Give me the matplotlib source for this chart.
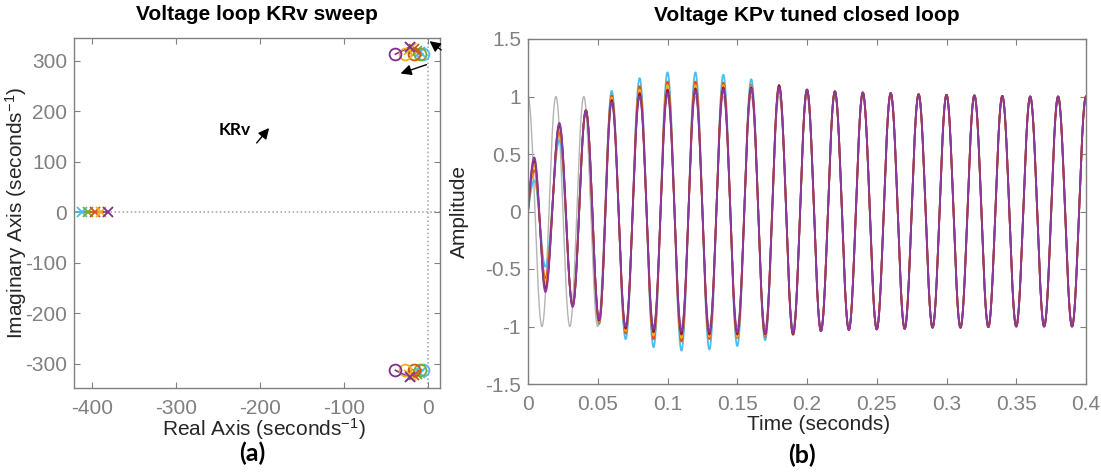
"""
Root locus of the KRv sweep and closed loop response with tuned KPv
"""

import numpy as np
import matplotlib
matplotlib.use("Agg")
from matplotlib import pyplot as plt

plt.rcParams["font.family"] = ["Liberation Sans", "DejaVu Sans"]
plt.rcParams["axes.unicode_minus"] = False
plt.rcParams["mathtext.default"] = "regular"

# (a) root locus: poles (x) and zeros (o) for each KRv value
krv_colors = ["#4DBEEE", "#77AC30", "#D95319", "#EDB120", "#7E2F8E"]
real_pole = [-412, -404, -396, -389, -381]
cplx_pole_re = [-10, -13, -17, -20, -22]
cplx_pole_im = [318, 320, 323, 325, 327]
zero_re = [-6, -10, -17, -28, -39]
zero_im = [313, 313, 313, 313, 313]

# (b) closed loop response: value at each peak / trough
ext_t = [0, 0.0045, 0.0125, 0.0225, 0.032, 0.0415, 0.051,
         0.06, 0.07, 0.08, 0.09, 0.10, 0.11, 0.12, 0.13, 0.14, 0.15,
         0.16, 0.17, 0.18, 0.19, 0.20, 0.21, 0.22, 0.23, 0.24, 0.25,
         0.26, 0.27, 0.28, 0.29, 0.30, 0.31, 0.32, 0.33, 0.34, 0.35,
         0.36, 0.37, 0.38, 0.39, 0.40]
kpv_colors = ["#4DBEEE", "#D95319", "#EDB120", "#A2142F", "#8A3A9C"]
resp_cyan = [0, 0.27, -0.48, 0.62, -0.80, 0.87, -0.98, 1.05, -1.11, 1.16, -1.18,
             1.21, -1.21, 1.21, -1.20, 1.19, -1.17, 1.15, -1.12, 1.09, -1.07]
resp_orange = [0, 0.36, -0.58, 0.69, -0.81, 0.88, -0.97, 1.01, -1.06, 1.09, -1.11,
               1.13, -1.13, 1.13, -1.11, 1.12, -1.10, 1.10, -1.09, 1.09, -1.07]
resp_yellow = [0, 0.40, -0.63, 0.72, -0.82, 0.88, -0.96, 0.99, -1.04, 1.06, -1.08,
               1.10, -1.10, 1.10, -1.09, 1.10, -1.09, 1.09, -1.08, 1.09, -1.07]
resp_red = [0, 0.44, -0.67, 0.75, -0.82, 0.88, -0.95, 0.97, -1.02, 1.03, -1.05,
            1.06, -1.07, 1.07, -1.07, 1.08, -1.07, 1.08, -1.07, 1.10, -1.07]
resp_purple = [0, 0.47, -0.70, 0.77, -0.83, 0.88, -0.94, 0.95, -1.00, 1.00, -1.02,
               1.03, -1.04, 1.05, -1.05, 1.06, -1.05, 1.07, -1.06, 1.08, -1.06]
# from 0.20 s on all responses overlap
resp_tail = [1.06, -1.04, 1.045, -1.03, 1.035, -1.025, 1.03, -1.02, 1.02, -1.01,
             1.015, -1.01, 1.01, -1.005, 1.005, -1.0, 1.0, -1.0, 1.0, -1.0, 1.0]
ref_t = [0, 0.01, 0.02, 0.03, 0.04, 0.05, 0.06, 0.07, 0.08, 0.09, 0.10,
         0.11, 0.12, 0.13, 0.14, 0.15, 0.16, 0.17, 0.18, 0.19, 0.20,
         0.21, 0.22, 0.23, 0.24, 0.25, 0.26, 0.27, 0.28, 0.29, 0.30,
         0.31, 0.32, 0.33, 0.34, 0.35, 0.36, 0.37, 0.38, 0.39, 0.40]
ref_v = [1, -1, 1, -1, 1, -1, 1, -1, 1, -1, 1, -1, 1, -1, 1, -1, 1, -1, 1, -1, 1,
         -1, 1, -1, 1, -1, 1, -1, 1, -1, 1, -1, 1, -1, 1, -1, 1, -1, 1, -1, 1]

GRAY = "#808080"
TXT = "#262626"


def through_extrema(t_ext, v_ext, n=40):
    # smooth (cosine shaped) segments between consecutive peaks/troughs
    ts, vs = [], []
    for i in range(len(t_ext) - 1):
        s = np.linspace(0, 1, n, endpoint=False)
        if i == 0 and v_ext[0] == 0:
            w = np.sin(np.pi / 2 * s)
        else:
            w = (1 - np.cos(np.pi * s)) / 2
        ts.append(t_ext[i] + (t_ext[i + 1] - t_ext[i]) * s)
        vs.append(v_ext[i] + (v_ext[i + 1] - v_ext[i]) * w)
    ts.append([t_ext[-1]])
    vs.append([v_ext[-1]])
    return np.concatenate(ts), np.concatenate(vs)


def matlab_box(ax):
    for sp in ax.spines.values():
        sp.set_color(GRAY)
        sp.set_linewidth(1.0)
    ax.tick_params(direction="in", top=True, right=True, length=4,
                   color=GRAY, labelcolor=GRAY, labelsize=15)


fig = plt.figure(figsize=(11.01, 4.72), dpi=100)

# ---------------- (a) ----------------
ax1 = fig.add_axes([74 / 1101, 1 - 388 / 472, 366 / 1101, 350 / 472])
matlab_box(ax1)
ax1.tick_params(axis="x", pad=8)
ax1.tick_params(axis="y", pad=5)
ax1.axhline(0, color="#a0a0a0", ls=":", lw=1.1, zorder=0)
ax1.axvline(0, color="#a0a0a0", ls=":", lw=1.1, zorder=0)
for i in reversed(range(len(krv_colors))):
    c = krv_colors[i]
    ax1.plot([real_pole[i], -450], [0, 0], color=c, lw=1.2)
    for sgn in (1, -1):
        ax1.plot([cplx_pole_re[i], zero_re[i]],
                 [sgn * cplx_pole_im[i], sgn * zero_im[i]], color=c, lw=1.2)
for i, c in enumerate(krv_colors):
    ax1.plot([real_pole[i], cplx_pole_re[i], cplx_pole_re[i]],
             [0, cplx_pole_im[i], -cplx_pole_im[i]],
             ls="none", marker="x", ms=7, mew=1.3, color=c)
    ax1.plot([zero_re[i], zero_re[i]], [zero_im[i], -zero_im[i]],
             ls="none", marker="o", ms=8.5, mew=1.3, mfc="none", color=c)
ax1.set_xlim(-421, 14)
ax1.set_ylim(-348, 345)
ax1.set_xticks([-400, -300, -200, -100, 0])
ax1.set_yticks([-300, -200, -100, 0, 100, 200, 300])
ax1.set_title("Voltage loop KRv sweep", fontsize=15, fontweight="bold", pad=13)
ax1.set_xlabel("Real Axis (seconds$^{-1}$)", fontsize=15, color=TXT,
               va="baseline")
ax1.xaxis.set_label_coords(0.52, -0.137)
ax1.set_ylabel("Imaginary Axis (seconds$^{-1}$)", fontsize=15, color=TXT,
               va="center", ha="center", rotation_mode="anchor")
ax1.yaxis.set_label_coords(-0.158, 0.5)

arrow = dict(arrowstyle="-|>", color="black", lw=1.0, mutation_scale=16)
ax1.text(-230, 162, "KRv", fontsize=12.5, fontweight="bold",
         family=["Lato", "DejaVu Sans"], ha="center", va="center")
ax1.annotate("", xy=(-187, 171), xytext=(-206, 133), arrowprops=arrow)
ax1.annotate("", xy=(-1, 342), xytext=(18, 318), arrowprops=arrow,
             annotation_clip=False)
ax1.annotate("", xy=(-36, 273), xytext=(1, 294), arrowprops=arrow)

# ---------------- (b) ----------------
ax2 = fig.add_axes([528 / 1101, 1 - 384 / 472, 558 / 1101, 345 / 472])
matlab_box(ax2)
ax2.tick_params(axis="x", pad=8)
ax2.tick_params(axis="y", pad=5)
rt, rv = through_extrema(ref_t, ref_v)
ax2.plot(rt, rv, color="#b4b4b4", lw=1.0)
for vals, c in zip([resp_cyan, resp_orange, resp_yellow, resp_red, resp_purple],
                   kpv_colors):
    t, v = through_extrema(ext_t, vals + resp_tail)
    ax2.plot(t, v, color=c, lw=1.3)
ax2.set_xlim(0, 0.4)
ax2.set_ylim(-1.5, 1.5)
ax2.set_xticks([0, 0.05, 0.1, 0.15, 0.2, 0.25, 0.3, 0.35, 0.4])
ax2.set_xticklabels(["0", "0.05", "0.1", "0.15", "0.2", "0.25", "0.3", "0.35", "0.4"])
ax2.set_yticks([-1.5, -1, -0.5, 0, 0.5, 1, 1.5])
ax2.set_yticklabels(["-1.5", "-1", "-0.5", "0", "0.5", "1", "1.5"])
ax2.set_title("Voltage KPv tuned closed loop", fontsize=15, fontweight="bold", pad=13)
ax2.set_xlabel("Time (seconds)", fontsize=15, color=TXT, va="baseline")
ax2.xaxis.set_label_coords(0.52, -0.132)
ax2.set_ylabel("Amplitude", fontsize=15, color=TXT,
               va="center", ha="center", rotation_mode="anchor")
ax2.yaxis.set_label_coords(-0.122, 0.5)

fig.text(252 / 1101, 1 - 453 / 472, "(a)", fontsize=18, fontweight="bold",
         family=["Lato", "DejaVu Sans"], ha="center", va="center")
fig.text(802 / 1101, 1 - 455 / 472, "(b)", fontsize=18, fontweight="bold",
         family=["Lato", "DejaVu Sans"], ha="center", va="center")

plt.savefig("out.png", dpi=100)
